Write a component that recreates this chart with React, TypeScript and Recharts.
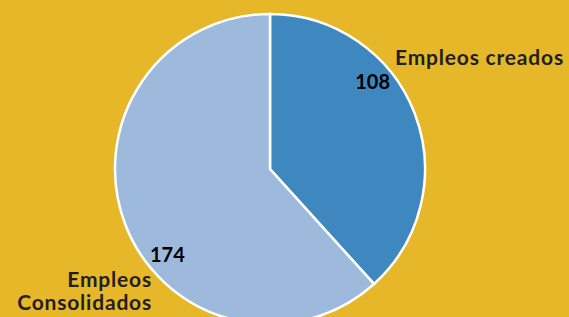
import React from "react";
import { PieChart, Pie, Cell } from "recharts";

const categories = ["Empleos creados", "Empleos Consolidados"];
const values = [108, 174];
const colors = ["#3F87BF", "#9DBADC"];

const data = categories.map((name, i) => ({ name, value: values[i] }));

const renderLabel = (props: any) => {
  const { cx, cy, index, value } = props;
  const num = { fontFamily: "Lato", fontWeight: 700 };
  const font = { fontFamily: "Lato", fontWeight: 700, letterSpacing: 0.8 };
  if (index === 0) {
    return (
      <g>
        <text x={cx + 120} y={cy - 80} textAnchor="end" fill="#000" fontSize={20} style={num}>
          {value}
        </text>
        <text x={cx + 125} y={cy - 104} textAnchor="start" fill="#231F20" fontSize={21} style={font}>
          {categories[0]}
        </text>
      </g>
    );
  }
  const words = categories[1].split(" ");
  return (
    <g>
      <text x={cx - 120} y={cy + 93} textAnchor="start" fill="#000" fontSize={20} style={num}>
        {value}
      </text>
      <text x={cx - 118} y={cy + 118} textAnchor="end" fill="#231F20" fontSize={21} style={font}>
        {words[0]}
      </text>
      <text x={cx - 118} y={cy + 141} textAnchor="end" fill="#231F20" fontSize={21} style={font}>
        {words[1]}
      </text>
    </g>
  );
};

export default function App() {
  return (
    <div style={{ position: "absolute", left: 0, top: 0, width: 569, height: 317, background: "#E6B829" }}>
      <PieChart width={569} height={317} margin={{ top: 0, right: 0, bottom: 0, left: 0 }}>
        <Pie
          data={data}
          dataKey="value"
          nameKey="name"
          cx={270}
          cy={169}
          outerRadius={155}
          startAngle={90}
          endAngle={-270}
          stroke="#fff"
          strokeWidth={2.5}
          label={renderLabel}
          labelLine={false}
          isAnimationActive={false}
        >
          {data.map((d, i) => (
            <Cell key={d.name} fill={colors[i]} />
          ))}
        </Pie>
      </PieChart>
    </div>
  );
}
